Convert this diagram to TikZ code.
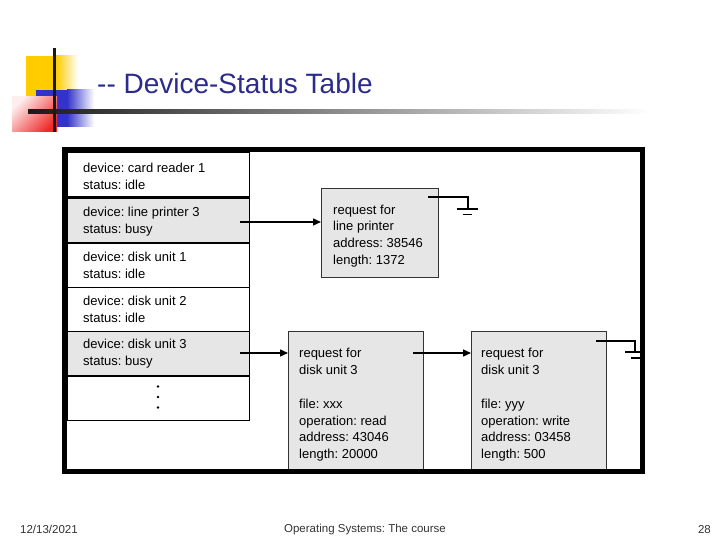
\documentclass[tikz,border=0pt]{standalone}
\usepackage{fontspec}
\setmainfont{Liberation Sans}
\usetikzlibrary{arrows.meta}
\frenchspacing
\definecolor{titleblue}{HTML}{2B2B8C}
\definecolor{boxgray}{HTML}{E6E6E6}
\definecolor{decoyellow}{HTML}{FFCC00}
\definecolor{decoblue}{HTML}{3333CC}
\definecolor{decored}{HTML}{F02828}
\tikzset{
  rowbox/.style={draw=black, line width=1.2pt, anchor=north west, minimum width=182pt, inner sep=0pt,
     minimum height=44.5pt},
  busy/.style={rowbox, fill=boxgray},
  rowtext/.style={anchor=west, align=left, inner sep=0pt, font=\fontsize{13}{17}\selectfont},
  reqbox/.style={draw=black!80, line width=1.2pt, fill=boxgray, anchor=north west, inner sep=0pt},
  reqtext/.style={anchor=west, align=left, inner sep=0pt, font=\fontsize{13}{16.8}\selectfont},
  link/.style={line width=1.4pt, -{Triangle[length=8pt,width=7pt]}},
  gnd/.style={line width=1.4pt},
  dot/.style={circle, fill=black, inner sep=0pt, minimum size=2.6pt},
  footer/.style={font=\fontsize{11.5}{13}\selectfont, text=black!80, inner sep=0pt}
}
\begin{document}
\begin{tikzpicture}[x=1pt,y=-1pt]
\useasboundingbox (0,0) rectangle (720,540);
% decoration
\fill[decoyellow] (26,56) rectangle (56,103);
\shade[left color=decoyellow, right color=white] (56,56) rectangle (78,103);
\fill[decoblue] (36,90) rectangle (67,127);
\shade[left color=decoblue, right color=white] (67,90) rectangle (94,127);
\shade[left color=decored!8, right color=decored, shading angle=45] (12,97) rectangle (57,132);
\shade[left color=black!90, right color=white] (28,110) rectangle (650,113.5);
\fill[black!90] (53,48) rectangle (56,132);
\node[anchor=west, text=titleblue, font=\fontsize{28}{33}\selectfont, inner sep=0pt] (title) at (97,83) {-{}- Device-Status Table};
% table rows
\node[rowbox] (r1) at (67,152) {};
\node[busy]   (r2) at (67,197.5) {};
\node[rowbox] (r3) at (67,242.5) {};
\node[rowbox] (r4) at (67,287) {};
\node[busy]   (r5) at (67,331) {};
\node[rowbox] (r6) at (67,375) {};
\node[rowtext] (t1) at (83,176.5) {device: card reader 1\\status: idle};
\node[rowtext] (t2) at (83,222) {device: line printer 3\\status: busy};
\node[rowtext] (t3) at (83,265.5) {device: disk unit 1\\status: idle};
\node[rowtext] (t4) at (83,309.5) {device: disk unit 2\\status: idle};
\node[rowtext] (t5) at (83,353.5) {device: disk unit 3\\status: busy};
\node[dot] (d1) at (158,386.5) {};
\node[dot] (d2) at (158,397) {};
\node[dot] (d3) at (158,407.5) {};
% requests
\node[reqbox, minimum width=117pt, minimum height=89pt] (q1) at (321,188) {};
\node[reqtext] (q1t) at (333,236) {request for\\line printer\\address: 38546\\length: 1372};
\node[reqbox, minimum width=135pt, minimum height=140pt] (q2) at (288,331) {};
\node[reqtext] (q2t) at (299,405) {request for\\disk unit 3\\[16.8pt]file: xxx\\operation: read\\address: 43046\\length: 20000};
\node[reqbox, minimum width=135pt, minimum height=140pt] (q3) at (471,331) {};
\node[reqtext] (q3t) at (481,405) {request for\\disk unit 3\\[16.8pt]file: yyy\\operation: write\\address: 03458\\length: 500};
% links
\coordinate (s1) at (240,222);
\coordinate (s2) at (240,353);
\coordinate (s3) at (413,353);
\draw[link] (s1) -- (s1 -| q1.west);
\draw[link] (s2) -- (s2 -| q2.west);
\draw[link] (s3) -- (s3 -| q3.west);
% grounds
\coordinate (g1) at (428,197);
\coordinate (g1c) at (468,209);
\draw[gnd] (g1) -| (g1c);
\draw[gnd] (457,209) -- (478,209);
\draw[gnd] (463,214.5) -- (472,214.5);
\coordinate (g2) at (596,341);
\coordinate (g2c) at (635,352);
\draw[gnd] (g2) -| (g2c);
\draw[gnd] (625,352) -- (645,352);
\draw[gnd] (631,358) -- (645,358);
% frame
\draw[line width=5pt] (64.5,149.5) rectangle (642.5,471.5);
% footer
\node[footer, anchor=west] (date) at (20,529.5) {12/13/2021};
\node[footer] (course) at (365,529.5) {Operating Systems: The course};
\node[footer, anchor=east] (page) at (711,529.5) {28};
\end{tikzpicture}
\end{document}
